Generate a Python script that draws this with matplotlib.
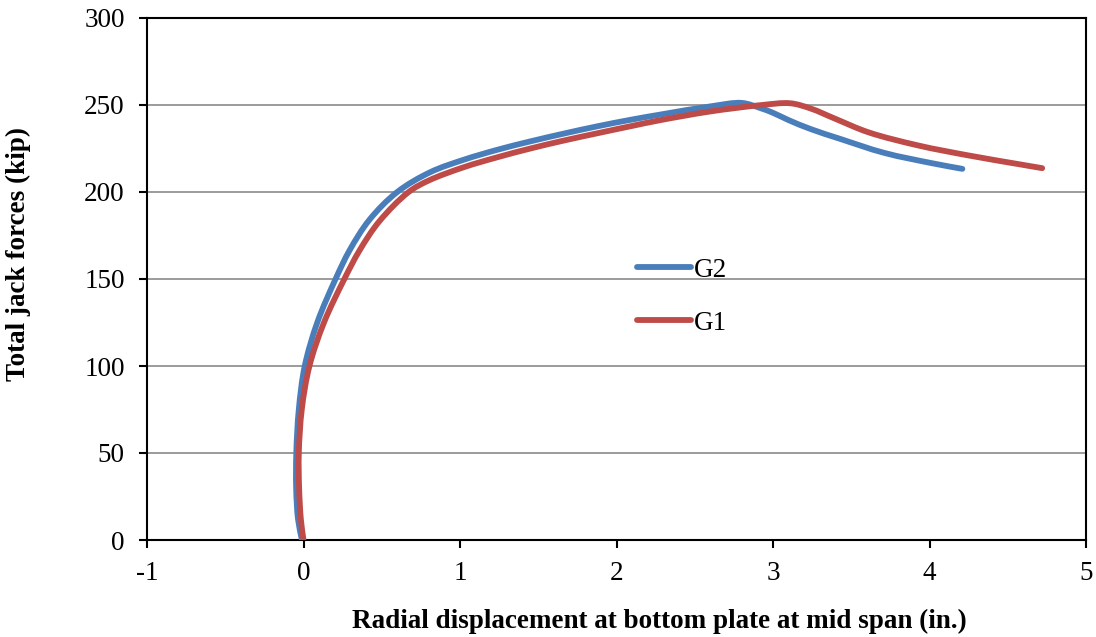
import matplotlib
matplotlib.use("Agg")
import math
import matplotlib.pyplot as plt
from matplotlib.path import Path
from matplotlib.patches import PathPatch
from matplotlib.lines import Line2D

# G2 (blue) series: radial displacement (in.) vs total jack force (kip)
g2_x = [-0.01, -0.035, -0.047, -0.046, -0.030, 0.008, 0.088, 0.205, 0.294, 0.421,
        0.599, 0.81, 1.026, 1.24, 1.45, 1.665, 1.88, 2.09, 2.28, 2.60, 2.80,
        2.92, 3.00, 3.10, 3.24, 3.43, 3.71, 4.03, 4.21]
g2_y = [0, 12, 30, 50, 75, 100, 125, 150, 166.4, 184,
        200, 211.4, 218.6, 224.3, 229.1, 233.6, 237.8, 241.5, 244.5, 249.2, 251.2,
        248.2, 245.5, 241.3, 236.2, 230.5, 222.5, 216.3, 213.3]

# G1 (red) series
g1_x = [0.0, -0.017, -0.028, -0.03, -0.011, 0.038, 0.131, 0.261, 0.358, 0.483,
        0.672, 0.80, 1.026, 1.24, 1.45, 1.665, 1.88, 2.09, 2.28, 2.60, 2.92,
        3.11, 3.24, 3.40, 3.61, 3.93, 4.25, 4.57, 4.72]
g1_y = [0, 12, 30, 50, 75, 100, 125, 150, 166.4, 183,
        200, 206.6, 214.3, 220, 225, 229.6, 233.8, 237.8, 241.3, 246.3, 249.9,
        251, 248, 242, 234.3, 226.7, 221, 216, 213.7]

series_names = ['G2', 'G1']
series_colors = ['#4A7EBB', '#BE4B48']

x_ticks = [-1, 0, 1, 2, 3, 4, 5]
y_ticks = [0, 50, 100, 150, 200, 250, 300]

# approximate screen aspect (pixels per data unit) used only to shape the smoothing
SX, SY = 156.5, 1.74


def smooth_path(xs, ys, alpha=0.5):
    """Centripetal Catmull-Rom smoothed line through the data points (as Bezier path)."""
    P = [(x * SX, y * SY) for x, y in zip(xs, ys)]
    n = len(P)
    first = (2 * P[0][0] - P[1][0], 2 * P[0][1] - P[1][1])
    last = (2 * P[-1][0] - P[-2][0], 2 * P[-1][1] - P[-2][1])
    Q = [first] + P + [last]

    def knot(a, b):
        return max(math.hypot(b[0] - a[0], b[1] - a[1]) ** alpha, 1e-9)

    verts = [(xs[0], ys[0])]
    codes = [Path.MOVETO]
    for i in range(1, n):
        p0, p1, p2, p3 = Q[i - 1], Q[i], Q[i + 1], Q[i + 2]
        d0, d1, d2 = knot(p0, p1), knot(p1, p2), knot(p2, p3)
        m1 = [d1 * ((p1[k] - p0[k]) / d0 - (p2[k] - p0[k]) / (d0 + d1) + (p2[k] - p1[k]) / d1) for k in (0, 1)]
        m2 = [d1 * ((p2[k] - p1[k]) / d1 - (p3[k] - p1[k]) / (d1 + d2) + (p3[k] - p2[k]) / d2) for k in (0, 1)]
        c1 = (p1[0] + m1[0] / 3, p1[1] + m1[1] / 3)
        c2 = (p2[0] - m2[0] / 3, p2[1] - m2[1] / 3)
        for c in (c1, c2, p2):
            verts.append((c[0] / SX, c[1] / SY))
        codes += [Path.CURVE4] * 3
    return Path(verts, codes)


plt.rcParams['font.family'] = ['Liberation Serif', 'DejaVu Serif']
plt.rcParams['axes.unicode_minus'] = False

fig = plt.figure(figsize=(10.96, 6.37), dpi=100)
ax = fig.add_axes([147/1096, 97/637, 939/1096, 522/637])

LW = 4.2
for xs, ys, c, z in [(g2_x, g2_y, series_colors[0], 3), (g1_x, g1_y, series_colors[1], 4)]:
    patch = PathPatch(smooth_path(xs, ys), facecolor='none', edgecolor=c, lw=LW,
                      capstyle='round', joinstyle='round', zorder=z)
    ax.add_patch(patch)

ax.set_xlim(-1, 5)
ax.set_ylim(0, 300)
ax.set_xticks(x_ticks)
ax.set_yticks(y_ticks)
ax.yaxis.grid(True, color='#8a8a8a', lw=1.2)
ax.set_axisbelow(True)
for s in ax.spines.values():
    s.set_color('black')
    s.set_linewidth(1.5)
ax.tick_params(axis='both', direction='out', length=5.5, width=1.5, labelsize=19.5)
ax.tick_params(axis='x', pad=9.5)
ax.tick_params(axis='y', pad=10.5)

ax.set_xlabel('Radial displacement at bottom plate at mid span (in.)', fontsize=19.5, fontweight='bold')
ax.set_ylabel('Total jack forces (kip)', fontsize=19.5, fontweight='bold')
ax.xaxis.set_label_coords(0.546, -0.132)
ax.yaxis.set_label_coords(-0.1235, 0.548)

handles = [Line2D([], [], color=c, lw=LW, solid_capstyle='round') for c in series_colors]
ax.legend(handles, series_names, loc='center left', bbox_to_anchor=(0.510, 0.466), frameon=False,
          fontsize=19.5, handlelength=2.0, handletextpad=0.1, labelspacing=1.03, borderaxespad=0)

fig.savefig('out.png', dpi=100)
